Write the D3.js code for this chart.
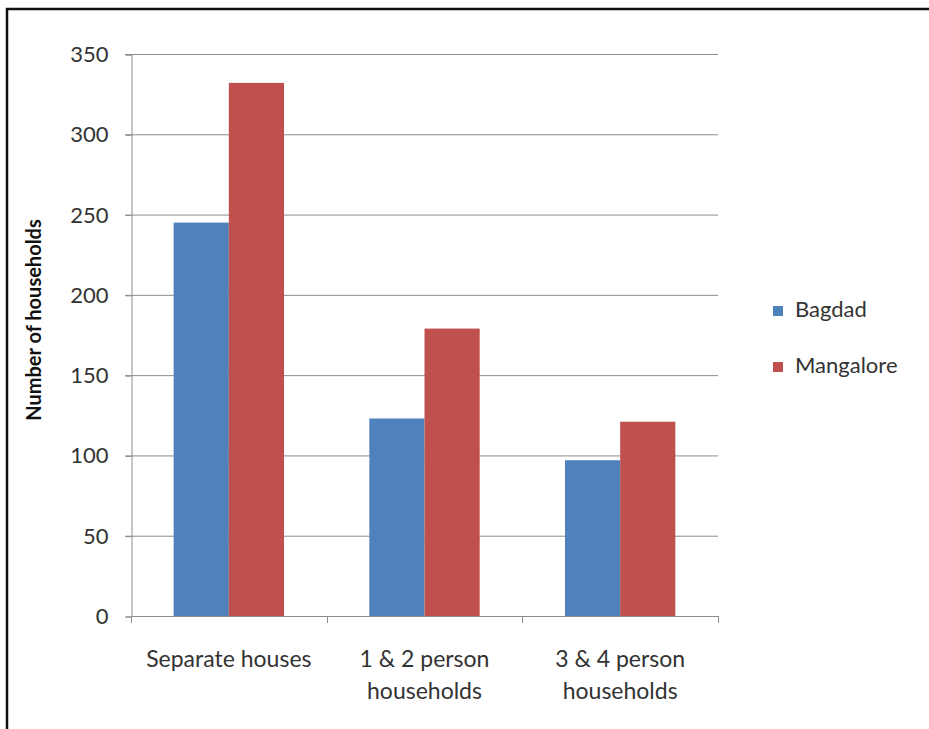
<!DOCTYPE html>
<html>
<head>
<meta charset="utf-8">
<script src="https://cdn.jsdelivr.net/npm/d3@7"></script>
<style>
  body { margin: 0; background: #fff; }
  svg { display: block; font-family: Lato, "Open Sans", sans-serif; }
</style>
</head>
<body>
<svg id="chart"></svg>
<script>
const categories = ["Separate houses", "1 & 2 person|households", "3 & 4 person|households"];
const seriesNames = ["Bagdad", "Mangalore"];
const bagdad = [245, 123, 97];
const mangalore = [332, 179, 121];
const yTicks = [0, 50, 100, 150, 200, 250, 300, 350];
const colors = ["#4F81BD", "#C0504D"];

const width = 929, height = 729;
const margin = {left: 131, right: 211, top: 54, bottom: 113};

const svg = d3.select("#chart").attr("width", width).attr("height", height);

// outer frame (only top and left edges are visible)
svg.append("rect")
  .attr("x", 7).attr("y", 9)
  .attr("width", 940).attr("height", 740)
  .attr("fill", "none").attr("stroke", "#111").attr("stroke-width", 2.5);

const data = categories.map((c, i) => ({cat: c, values: [bagdad[i], mangalore[i]]}));

const x = d3.scaleBand()
  .domain(categories)
  .range([margin.left, width - margin.right])
  .paddingInner(0.436).paddingOuter(0.218);

const xs = d3.scaleBand().domain(seriesNames).range([0, x.bandwidth()]);

const y = d3.scaleLinear().domain([0, 350]).range([height - margin.bottom, margin.top]);

// gridlines
svg.append("g")
  .selectAll("line")
  .data(yTicks.slice(1))
  .join("line")
  .attr("x1", margin.left - 6).attr("x2", width - margin.right)
  .attr("y1", d => y(d) + 0.5).attr("y2", d => y(d) + 0.5)
  .attr("stroke", "#8c8c8c").attr("stroke-width", 1);

// bars
const groups = svg.append("g")
  .selectAll("g")
  .data(data)
  .join("g")
  .attr("transform", d => `translate(${x(d.cat)},0)`);

groups.selectAll("rect")
  .data(d => d.values.map((v, i) => ({name: seriesNames[i], v, i})))
  .join("rect")
  .attr("x", d => xs(d.name))
  .attr("width", xs.bandwidth())
  .attr("y", d => y(d.v))
  .attr("height", d => y(0) - y(d.v))
  .attr("fill", d => colors[d.i]);

// y axis
const yAxis = d3.axisLeft(y).tickValues(yTicks).tickSize(6).tickPadding(17);
svg.append("g")
  .attr("transform", `translate(${margin.left + 0.5},0.5)`)
  .call(yAxis)
  .call(g => g.select(".domain").attr("stroke", "#8c8c8c"))
  .call(g => g.selectAll(".tick line").attr("stroke", "#8c8c8c"))
  .call(g => g.selectAll("text").attr("font-size", 22).attr("fill", "#333").attr("font-family", "Lato, sans-serif"));

// x axis baseline and category boundary ticks
const step = x.step();
const bounds = d3.range(categories.length + 1).map(i => margin.left + i * step);
svg.append("line")
  .attr("x1", margin.left).attr("x2", width - margin.right)
  .attr("y1", y(0) + 0.5).attr("y2", y(0) + 0.5)
  .attr("stroke", "#8c8c8c");
svg.append("g").selectAll("line")
  .data(bounds)
  .join("line")
  .attr("x1", d => Math.round(d) + 0.5).attr("x2", d => Math.round(d) + 0.5)
  .attr("y1", y(0)).attr("y2", y(0) + 7)
  .attr("stroke", "#8c8c8c");

// category labels
const xl = svg.append("g").selectAll("text")
  .data(categories)
  .join("text")
  .attr("x", d => x(d) + x.bandwidth() / 2)
  .attr("y", 667)
  .attr("text-anchor", "middle")
  .attr("font-size", 23)
  .attr("fill", "#333");
xl.selectAll("tspan")
  .data(d => d.split("|"))
  .join("tspan")
  .attr("x", function () { return d3.select(this.parentNode).attr("x"); })
  .attr("dy", (d, i) => i === 0 ? 0 : 32)
  .text(d => d);

// y axis title
svg.append("text")
  .attr("transform", `translate(41,320) rotate(-90)`)
  .attr("text-anchor", "middle")
  .attr("font-size", 20)
  .attr("font-weight", "bold")
  .attr("fill", "#111")
  .text("Number of households");

// legend
const legend = svg.append("g").selectAll("g")
  .data(seriesNames)
  .join("g")
  .attr("transform", (d, i) => `translate(773,${306 + i * 56})`);
legend.append("rect")
  .attr("width", 10).attr("height", 10)
  .attr("fill", (d, i) => colors[i]);
legend.append("text")
  .attr("x", 22).attr("y", 11)
  .attr("font-size", 22)
  .attr("fill", "#333")
  .text(d => d);
</script>
</body>
</html>
